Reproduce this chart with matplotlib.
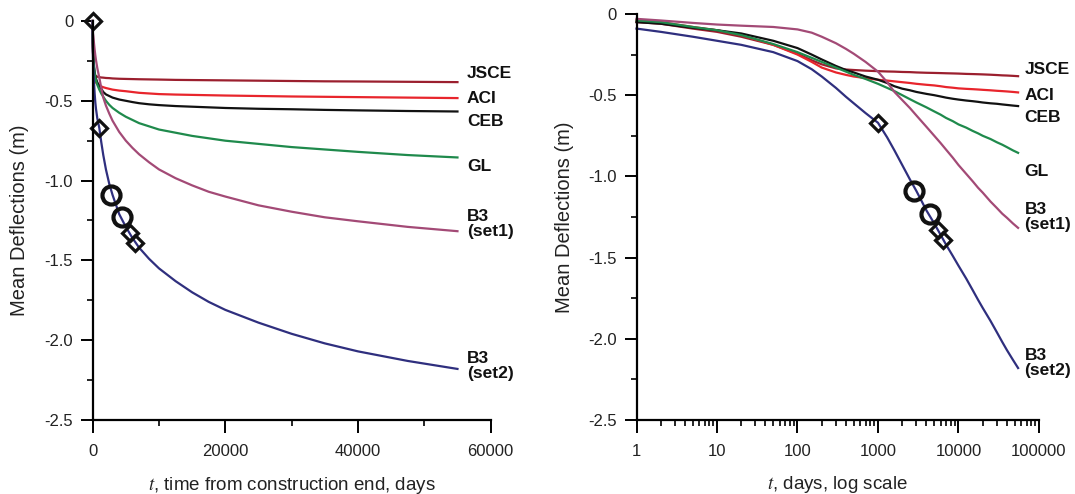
import numpy as np
import matplotlib
matplotlib.use("Agg")
import matplotlib.pyplot as plt
from matplotlib.ticker import FixedLocator, MultipleLocator, LogLocator, NullFormatter

plt.rcParams['font.family'] = ['Liberation Sans', 'DejaVu Sans']
plt.rcParams['mathtext.fontset'] = 'stix'

# time points (days) - t=0 only used on the linear plot
t = [0, 1, 2, 5, 10, 20, 50, 100, 150, 200, 300, 400, 500, 700, 1000, 1300, 1600, 2000,
     2500, 3000, 4000, 5000, 6000, 7000, 8500, 10000, 12500, 15000, 17500, 20000, 25000,
     30000, 35000, 40000, 47500, 55000]

# mean deflections (m)
jsce = [0, -0.05, -0.06, -0.09, -0.11, -0.14, -0.19, -0.245, -0.285, -0.31, -0.335, -0.342,
        -0.345, -0.349, -0.352, -0.354, -0.355, -0.357, -0.358, -0.36, -0.362, -0.363, -0.364,
        -0.365, -0.366, -0.367, -0.369, -0.37, -0.371, -0.372, -0.374, -0.376, -0.378, -0.379,
        -0.381, -0.383]
aci = [0, -0.04, -0.05, -0.08, -0.10, -0.13, -0.19, -0.25, -0.295, -0.33, -0.36, -0.375,
       -0.385, -0.395, -0.405, -0.41, -0.415, -0.42, -0.425, -0.43, -0.436, -0.44, -0.445,
       -0.45, -0.454, -0.458, -0.461, -0.463, -0.465, -0.467, -0.47, -0.473, -0.475, -0.477,
       -0.48, -0.483]
ceb = [0, -0.05, -0.06, -0.085, -0.10, -0.12, -0.165, -0.21, -0.25, -0.28, -0.32, -0.345,
       -0.36, -0.385, -0.405, -0.425, -0.445, -0.46, -0.47, -0.48, -0.492, -0.50, -0.508,
       -0.515, -0.522, -0.527, -0.533, -0.537, -0.541, -0.545, -0.55, -0.553, -0.557, -0.56,
       -0.564, -0.567]
gl = [0, -0.04, -0.05, -0.08, -0.10, -0.13, -0.185, -0.235, -0.27, -0.295, -0.33, -0.355,
      -0.375, -0.40, -0.43, -0.455, -0.475, -0.50, -0.525, -0.545, -0.575, -0.60, -0.62,
      -0.64, -0.66, -0.68, -0.70, -0.72, -0.735, -0.75, -0.77, -0.79, -0.805, -0.82,
      -0.84, -0.855]
b3_set1 = [0, -0.03, -0.04, -0.055, -0.065, -0.072, -0.08, -0.095, -0.115, -0.14, -0.18,
           -0.215, -0.245, -0.295, -0.355, -0.42, -0.48, -0.53, -0.58, -0.625, -0.695, -0.75,
           -0.795, -0.835, -0.885, -0.93, -0.985, -1.03, -1.07, -1.10, -1.155, -1.195, -1.23,
           -1.255, -1.29, -1.317]
b3_set2 = [0, -0.09, -0.11, -0.14, -0.165, -0.19, -0.235, -0.29, -0.34, -0.385, -0.455,
           -0.51, -0.55, -0.61, -0.67, -0.76, -0.84, -0.93, -1.02, -1.09, -1.21, -1.29, -1.36,
           -1.42, -1.49, -1.55, -1.63, -1.70, -1.76, -1.81, -1.89, -1.96, -2.02, -2.07,
           -2.13, -2.18]

# measured points
diam_t = [0, 1000, 5600, 6400]
diam_v = [0, -0.67, -1.33, -1.39]
circ_t = [2800, 4400]
circ_v = [-1.09, -1.23]

names = ['JSCE', 'ACI', 'CEB', 'GL', 'B3\n(set1)', 'B3\n(set2)']
curves = [jsce, aci, ceb, gl, b3_set1, b3_set2]
colors = ['#9b1f2e', '#e8252c', '#111111', '#1f8a4c', '#a34a76', '#2f2f7e']
lab_left = [-0.33, -0.485, -0.63, -0.91, -1.27, -2.16]
lab_right = [-0.34, -0.50, -0.64, -0.97, -1.25, -2.15]

yticks = [0, -0.5, -1.0, -1.5, -2.0, -2.5]
ylabels = ['0', '-0.5', '-1.0', '-1.5', '-2.0', '-2.5']

fig = plt.figure(figsize=(10.75, 4.94), dpi=100)
ax1 = fig.add_axes([0.0862, 0.1498, 0.3702, 0.8077])
ax2 = fig.add_axes([0.5921, 0.1498, 0.3744, 0.8219])


def style(ax):
    for s in ['top', 'right']:
        ax.spines[s].set_visible(False)
    for s in ['left', 'bottom']:
        ax.spines[s].set_linewidth(1.6)
    ax.tick_params(which='major', direction='out', length=9, width=1.4,
                   labelsize=12, labelcolor='#222222')
    ax.tick_params(axis='x', which='major', pad=8)
    ax.tick_params(axis='y', which='major', pad=5)
    ax.tick_params(which='minor', direction='out', length=4.5, width=1.2)
    ax.set_ylim(-2.5, 0)
    ax.yaxis.set_major_locator(FixedLocator(yticks))
    ax.set_yticklabels(ylabels)
    ax.yaxis.set_minor_locator(MultipleLocator(0.25))
    ax.set_ylabel('Mean Deflections (m)', fontsize=14.5, color='#222222', va='center')
    ax.xaxis.label.set_va('center')


# left: linear time
for y, c in zip(curves, colors):
    ax1.plot(t, y, color=c, lw=1.6, clip_on=False)
ax1.plot(diam_t, diam_v, 'D', ms=8, mfc='none', mec='#111111', mew=2.3, clip_on=False)
ax1.plot(circ_t, circ_v, 'o', ms=13, mfc='none', mec='#111111', mew=3, clip_on=False)
for n, yl in zip(names, lab_left):
    ax1.text(56400, yl, n, fontsize=12.5, fontweight='bold', ha='left', va='center',
             linespacing=1.0, color='#111111')
ax1.set_xlim(0, 60000)
ax1.xaxis.set_major_locator(FixedLocator([0, 20000, 40000, 60000]))
ax1.xaxis.set_minor_locator(MultipleLocator(10000))
ax1.set_xlabel('$t$, time from construction end, days', fontsize=13.5, color='#222222')
style(ax1)
ax1.yaxis.set_label_coords(-0.183, 0.5)
ax1.xaxis.set_label_coords(0.5, -0.163)

# right: log time
for y, c in zip(curves, colors):
    ax2.plot(t[1:], y[1:], color=c, lw=1.6, clip_on=False)
ax2.plot(diam_t[1:], diam_v[1:], 'D', ms=8, mfc='none', mec='#111111', mew=2.3, clip_on=False)
ax2.plot(circ_t, circ_v, 'o', ms=13, mfc='none', mec='#111111', mew=3, clip_on=False)
for n, yl in zip(names, lab_right):
    ax2.text(66000, yl, n, fontsize=12.5, fontweight='bold', ha='left', va='center',
             linespacing=1.0, color='#111111')
ax2.set_xscale('log')
ax2.set_xlim(1, 100000)
ax2.xaxis.set_major_locator(FixedLocator([1, 10, 100, 1000, 10000, 100000]))
ax2.set_xticklabels(['1', '10', '100', '1000', '10000', '100000'])
ax2.xaxis.set_minor_locator(LogLocator(base=10, subs=np.arange(2, 10), numticks=20))
ax2.xaxis.set_minor_formatter(NullFormatter())
ax2.set_xlabel('$t$, days, log scale', fontsize=13.5, color='#222222')
style(ax2)
ax2.yaxis.set_label_coords(-0.178, 0.5)
ax2.xaxis.set_label_coords(0.5, -0.16)

fig.savefig('out.png', dpi=100)
